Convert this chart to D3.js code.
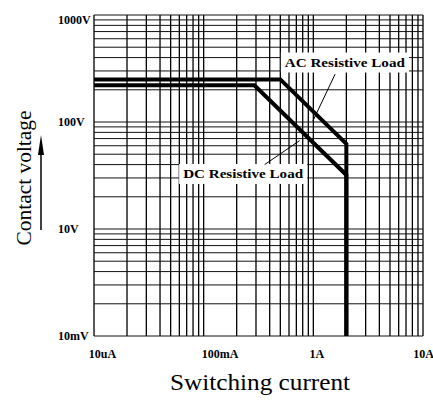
<!DOCTYPE html>
<meta charset="utf-8">
<style>
body { margin: 0; background: #fff; }
svg { display: block; }
.grid-x line { stroke: #000; stroke-width: 1.3px; }
.grid-y line { stroke: #111; stroke-width: 1px; }
.curve { fill: none; stroke: #000; stroke-width: 4px; stroke-linejoin: miter; }
.tick-label { font-family: "Liberation Serif", "DejaVu Serif", serif; font-weight: bold; font-size: 12px; fill: #000; }
.title { font-family: "Liberation Serif", "DejaVu Serif", serif; fill: #000; }
.note { font-family: "Liberation Serif", "DejaVu Serif", serif; font-weight: bold; font-size: 12.5px; fill: #000; }
</style>
<div id="chart"></div>
<script src="https://d3js.org/d3.v7.min.js"></script>
<script>
  // axis ticks
  var xTickValues = [0.01, 0.1, 1, 10];
  var xTickLabels = ["10uA", "100mA", "1A", "10A"];
  var yTickValues = [1, 10, 100, 1000];
  var yTickLabels = ["10mV", "10V", "100V", "1000V"];

  // load curves (current in A, voltage in V)
  var acCurrent = [0.01, 0.5, 2, 2];
  var acVoltage = [250, 250, 62.5, 1];
  var dcCurrent = [0.01, 0.29, 2, 2];
  var dcVoltage = [220, 220, 32, 1];

  // callout labels: text start (current, voltage), leader start, point on curve
  var noteTexts = ["AC Resistive Load", "DC Resistive Load"];
  var noteTextAt = [[0.55, 330], [0.065, 30]];
  var noteLeaderFrom = [[1.58, 280], [0.36, 40]];
  var noteLeaderTo = [[0.99, 102], [0.75, 67]];

  var width = 433, height = 409;

  var svg = d3.select("#chart").append("svg")
    .attr("width", width)
    .attr("height", height);

  var x = d3.scaleLog().domain([0.01, 10]).range([94, 423]);
  var y = d3.scaleLog().domain([1, 1000]).range([336, 15]);

  // grid
  svg.append("g").attr("class", "grid-x")
    .selectAll("line")
    .data(x.ticks())
    .join("line")
    .attr("x1", d => x(d)).attr("x2", d => x(d))
    .attr("y1", y.range()[1]).attr("y2", y.range()[0]);

  svg.append("g").attr("class", "grid-y")
    .selectAll("line")
    .data(y.ticks())
    .join("line")
    .attr("y1", d => y(d)).attr("y2", d => y(d))
    .attr("x1", x.range()[0]).attr("x2", x.range()[1]);

  // tick labels
  var xAxis = svg.append("g")
    .attr("transform", "translate(0," + (y.range()[0] + 10) + ")")
    .call(d3.axisBottom(x).tickValues(xTickValues).tickSize(0)
      .tickFormat((d, i) => xTickLabels[i]));
  xAxis.select(".domain").remove();
  xAxis.selectAll("text")
    .attr("class", "tick-label")
    .attr("font-family", null).attr("font-size", null)
    .attr("dx", (d, i) => i === 0 ? 8 : (i === 1 ? 16 : (i === 2 ? 3 : 0)));

  svg.append("g")
    .selectAll("text")
    .data(yTickValues)
    .join("text")
    .attr("class", "tick-label")
    .attr("x", 58)
    .attr("y", d => y(d))
    .attr("dy", (d, i) => i === 3 ? "0.75em" : "0.35em")
    .text((d, i) => yTickLabels[i]);

  // curves
  var line = d3.line().x(d => x(d[0])).y(d => y(d[1]));
  svg.append("path").attr("class", "curve")
    .attr("d", line(d3.zip(acCurrent, acVoltage)));
  svg.append("path").attr("class", "curve")
    .attr("d", line(d3.zip(dcCurrent, dcVoltage)));

  // callouts
  noteTexts.forEach(function(t, i) {
    var g = svg.append("g");
    var rect = g.append("rect").attr("fill", "#fff");
    var txt = g.append("text")
      .attr("class", "note")
      .attr("x", x(noteTextAt[i][0]))
      .attr("y", y(noteTextAt[i][1]))
      .attr("textLength", 120)
      .attr("lengthAdjust", "spacingAndGlyphs")
      .text(t);
    var bb = txt.node().getBBox();
    rect.attr("x", bb.x - 4).attr("y", bb.y - 3)
      .attr("width", bb.width + 8).attr("height", bb.height + 6);
    svg.append("line")
      .attr("x1", x(noteLeaderFrom[i][0])).attr("y1", y(noteLeaderFrom[i][1]))
      .attr("x2", x(noteLeaderTo[i][0])).attr("y2", y(noteLeaderTo[i][1]))
      .attr("stroke", "#000").attr("stroke-width", 1);
  });

  // axis titles
  svg.append("text")
    .attr("class", "title")
    .attr("x", 170).attr("y", 390)
    .attr("font-size", 24)
    .attr("textLength", 180)
    .attr("lengthAdjust", "spacingAndGlyphs")
    .text("Switching current");

  svg.append("text")
    .attr("class", "title")
    .attr("transform", "translate(31,178) rotate(-90)")
    .attr("text-anchor", "middle")
    .attr("font-size", 20)
    .attr("textLength", 135)
    .attr("lengthAdjust", "spacingAndGlyphs")
    .text("Contact voltage");

  // arrow next to the y title
  svg.append("line")
    .attr("x1", 41).attr("x2", 41).attr("y1", 230).attr("y2", 150)
    .attr("stroke", "#000").attr("stroke-width", 1.5);
  svg.append("path")
    .attr("d", "M41,135 L44,155 L38,155 Z")
    .attr("fill", "#000");
</script>
